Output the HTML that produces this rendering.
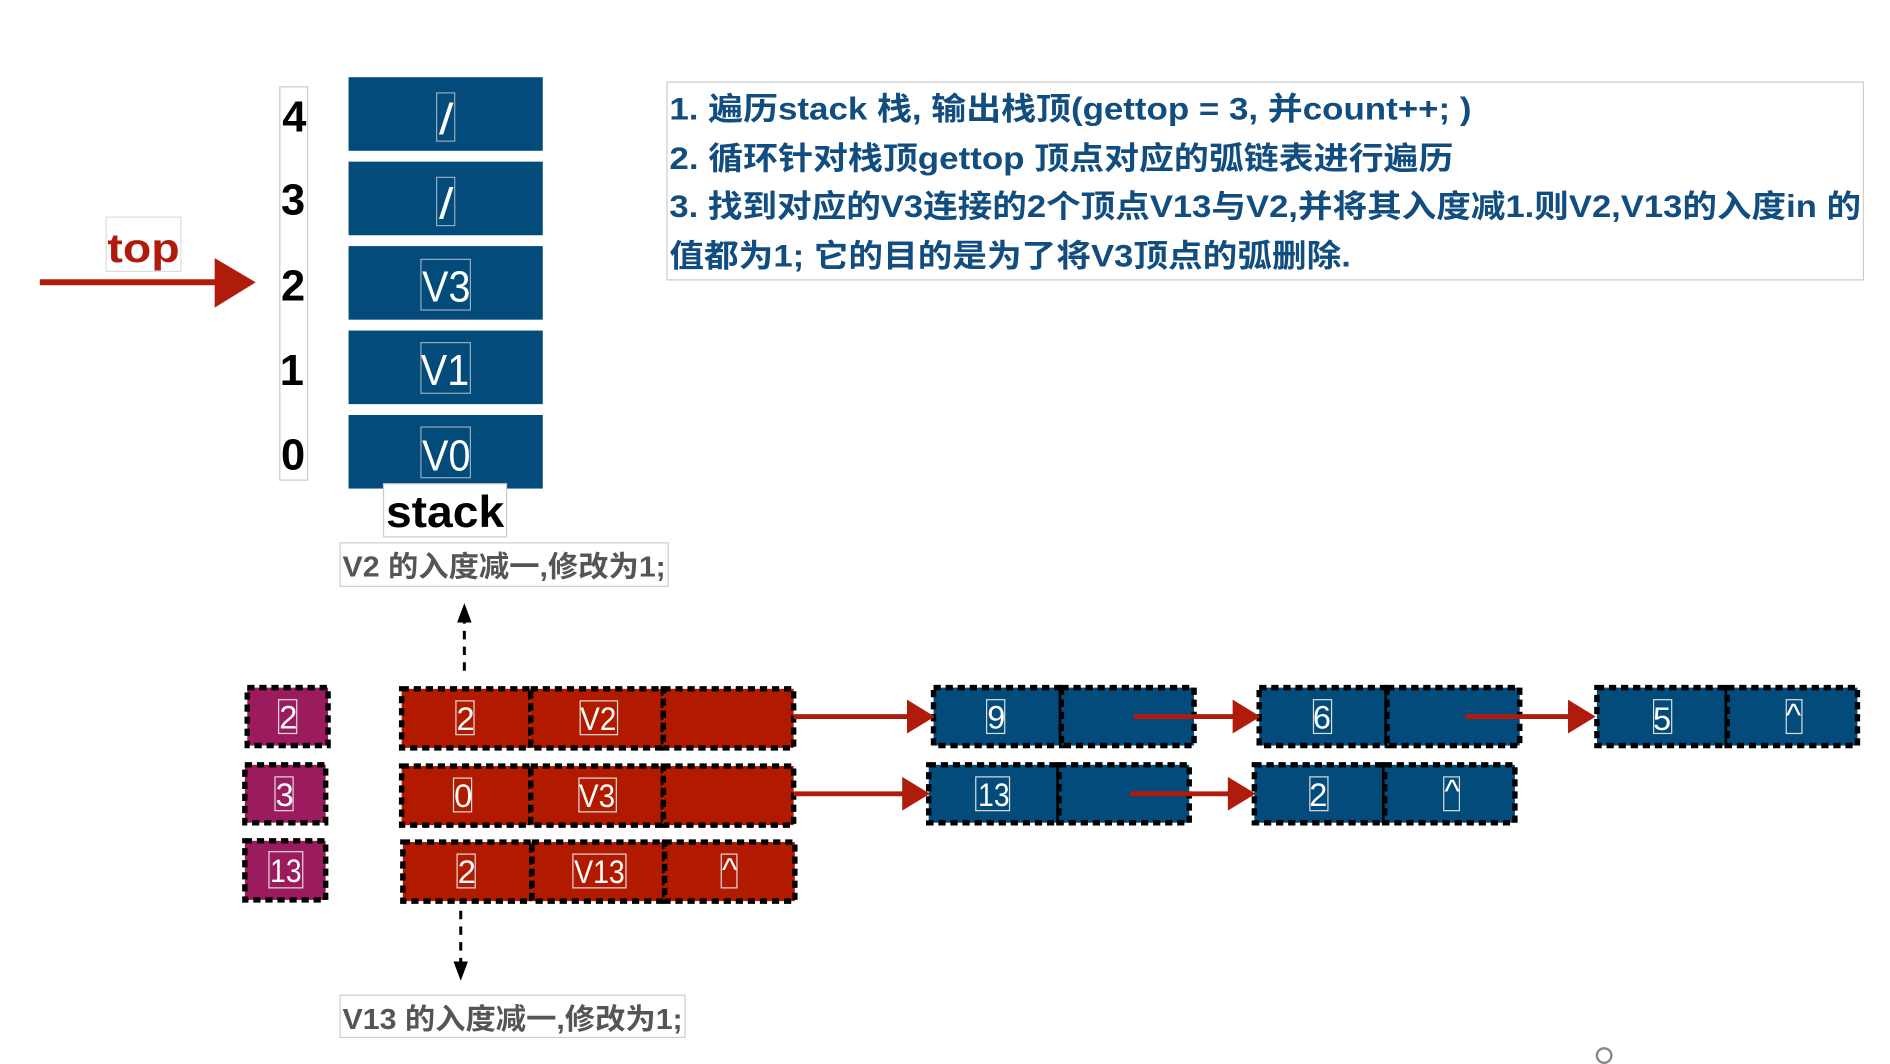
<!DOCTYPE html>
<html><head><meta charset="utf-8"><style>html,body{margin:0;padding:0;background:#fff;overflow:hidden}svg{display:block}</style></head>
<body>
<svg width="1890" height="1064" viewBox="0 0 1567 882" preserveAspectRatio="none" xmlns="http://www.w3.org/2000/svg" font-family="Liberation Sans, Noto Sans CJK SC, sans-serif">
<!-- index column -->
<rect x="232" y="72" width="23" height="326" fill="none" stroke="#ccc" stroke-width="1"/>
<g font-size="36" font-weight="bold" fill="#000" text-anchor="middle">
<text x="244" y="109">4</text><text x="243" y="178">3</text><text x="243" y="249">2</text><text x="242" y="319">1</text><text x="243" y="389">0</text>
</g>
<!-- stack -->
<g fill="#024b7a">
<rect x="289" y="64" width="161" height="61"/><rect x="289" y="134" width="161" height="61"/><rect x="289" y="204" width="161" height="61"/><rect x="289" y="274" width="161" height="61"/><rect x="289" y="344" width="161" height="61"/>
</g>
<g fill="none" stroke="#9ab" stroke-width="1">
<rect x="362" y="77" width="15" height="40"/><rect x="362" y="147" width="15" height="40"/><rect x="349" y="215" width="41" height="42"/><rect x="349" y="284" width="41" height="42"/><rect x="349" y="354" width="41" height="42"/>
</g>
<g font-size="36" fill="#fff" text-anchor="middle">
<text x="370" y="111" textLength="12" lengthAdjust="spacingAndGlyphs">/</text><text x="370" y="181" textLength="12" lengthAdjust="spacingAndGlyphs">/</text><text x="370" y="250" textLength="40" lengthAdjust="spacingAndGlyphs">V3</text><text x="369" y="319" textLength="40" lengthAdjust="spacingAndGlyphs">V1</text><text x="370" y="390" textLength="40" lengthAdjust="spacingAndGlyphs">V0</text>
</g>
<rect x="318" y="401" width="102" height="44" fill="#fff" stroke="#ccc" stroke-width="1"/>
<text x="369" y="437" font-size="37" font-weight="bold" text-anchor="middle" fill="#000" textLength="98" lengthAdjust="spacingAndGlyphs">stack</text>
<!-- top -->
<rect x="88" y="180" width="62" height="45" fill="#fff" stroke="#ddd" stroke-width="1"/>
<text x="119" y="217" font-size="34" font-weight="bold" text-anchor="middle" fill="#b01c0c" textLength="60" lengthAdjust="spacingAndGlyphs">top</text>
<line x1="33" y1="234" x2="185" y2="234" stroke="#b01c0c" stroke-width="5"/>
<path d="M178,214 L212,234 L178,255 Z" fill="#b01c0c"/>
<!-- text box -->
<rect x="553" y="68" width="992" height="164" fill="#fff" stroke="#ccc" stroke-width="1"/>
<g font-size="26" font-weight="bold" fill="#124d80">
<text x="555" y="99" textLength="665" lengthAdjust="spacingAndGlyphs">1. 遍历stack 栈, 输出栈顶(gettop = 3, 并count++; )</text>
<text x="555" y="140" textLength="650" lengthAdjust="spacingAndGlyphs">2. 循环针对栈顶gettop 顶点对应的弧链表进行遍历</text>
<text x="555" y="180" textLength="988" lengthAdjust="spacingAndGlyphs">3. 找到对应的V3连接的2个顶点V13与V2,并将其入度减1.则V2,V13的入度in 的</text>
<text x="555" y="221" textLength="565" lengthAdjust="spacingAndGlyphs">值都为1; 它的目的是为了将V3顶点的弧删除.</text>
</g>
<!-- labels -->
<rect x="282" y="450" width="272" height="36" fill="#fff" stroke="#ccc" stroke-width="1"/>
<text x="284" y="478" font-size="24" font-weight="bold" fill="#555" textLength="268" lengthAdjust="spacingAndGlyphs">V2 的入度减一,修改为1;</text>
<rect x="282" y="825" width="286" height="35" fill="#fff" stroke="#ccc" stroke-width="1"/>
<text x="284" y="853" font-size="24" font-weight="bold" fill="#555" textLength="282" lengthAdjust="spacingAndGlyphs">V13 的入度减一,修改为1;</text>
<!-- dashed arrows -->
<line x1="385" y1="556" x2="385" y2="514" stroke="#000" stroke-width="2.5" stroke-dasharray="7 6"/>
<path d="M379,516 L385,500 L391,516 Z" fill="#000"/>
<line x1="382" y1="755" x2="382" y2="798" stroke="#000" stroke-width="2.5" stroke-dasharray="7 6"/>
<path d="M376,797 L382,813 L388,797 Z" fill="#000"/>
<!-- nodes -->
<g stroke="#000" stroke-width="4.5" stroke-dasharray="6 4">
<rect x="205" y="570" width="67" height="48" fill="#9b1b5e"/>
<rect x="203" y="634" width="67" height="48" fill="#9b1b5e"/>
<rect x="203" y="697" width="67" height="49" fill="#9b1b5e"/>
<g fill="#b21a00">
<rect x="333" y="571" width="107" height="49"/><rect x="440" y="571" width="110" height="49"/><rect x="550" y="571" width="108" height="49"/>
<rect x="333" y="635" width="107" height="49"/><rect x="440" y="635" width="110" height="49"/><rect x="550" y="635" width="108" height="49"/>
<rect x="334" y="698" width="107" height="49"/><rect x="441" y="698" width="110" height="49"/><rect x="551" y="698" width="108" height="49"/>
</g>
<g fill="#024b7a">
<rect x="774" y="570" width="106" height="48"/><rect x="880" y="570" width="110" height="48"/>
<rect x="1044" y="570" width="106" height="48"/><rect x="1150" y="570" width="110" height="48"/>
<rect x="1324" y="570" width="108" height="48"/><rect x="1432" y="570" width="108" height="48"/>
<rect x="770" y="634" width="108" height="48"/><rect x="878" y="634" width="108" height="48"/>
<rect x="1040" y="634" width="108" height="48"/><rect x="1148" y="634" width="108" height="48"/>
</g>
</g>
<g fill="none" stroke="#ddd" stroke-width="1">
<rect x="231" y="580" width="15" height="28"/><rect x="228" y="644" width="15" height="28"/><rect x="223" y="706" width="28" height="30"/>
<rect x="378" y="581" width="15" height="28"/><rect x="481" y="581" width="31" height="28"/>
<rect x="376" y="645" width="15" height="28"/><rect x="480" y="645" width="31" height="28"/>
<rect x="379" y="708" width="15" height="28"/><rect x="475" y="708" width="44" height="28"/><rect x="598" y="708" width="13" height="28"/>
<rect x="818" y="580" width="15" height="28"/><rect x="1089" y="580" width="15" height="28"/><rect x="1371" y="580" width="15" height="28"/><rect x="1481" y="580" width="13" height="28"/>
<rect x="809" y="644" width="28" height="28"/><rect x="1086" y="644" width="15" height="28"/><rect x="1197" y="644" width="13" height="28"/>
</g>
<g font-size="27" fill="#fff" text-anchor="middle">
<text x="239" y="604">2</text><text x="236" y="668">3</text><text x="237" y="731" textLength="26" lengthAdjust="spacingAndGlyphs">13</text>
<text x="386" y="605">2</text><text x="496" y="605" textLength="30" lengthAdjust="spacingAndGlyphs">V2</text>
<text x="384" y="669">0</text><text x="495" y="669" textLength="30" lengthAdjust="spacingAndGlyphs">V3</text>
<text x="387" y="732">2</text><text x="497" y="732" textLength="42" lengthAdjust="spacingAndGlyphs">V13</text><text x="605" y="730">^</text>
<text x="826" y="604">9</text><text x="1096" y="604">6</text><text x="1378" y="605">5</text><text x="1487" y="602">^</text>
<text x="824" y="668" textLength="26" lengthAdjust="spacingAndGlyphs">13</text><text x="1093" y="668">2</text><text x="1204" y="665">^</text>
</g>
<!-- red arrows -->
<g stroke="#b01c0c" stroke-width="4">
<line x1="658" y1="594" x2="755" y2="594"/><line x1="940" y1="594" x2="1025" y2="594"/><line x1="1215" y1="594" x2="1303" y2="594"/>
<line x1="658" y1="658" x2="751" y2="658"/><line x1="937" y1="658" x2="1021" y2="658"/>
</g>
<g fill="#b01c0c">
<path d="M752,580 L775,594 L752,608 Z"/><path d="M1022,580 L1045,594 L1022,608 Z"/><path d="M1300,580 L1323,594 L1300,608 Z"/>
<path d="M748,644 L771,658 L748,672 Z"/><path d="M1018,644 L1041,658 L1018,672 Z"/>
</g>
<circle cx="1330" cy="875" r="6" fill="none" stroke="#888" stroke-width="2"/>
</svg>
</body></html>
